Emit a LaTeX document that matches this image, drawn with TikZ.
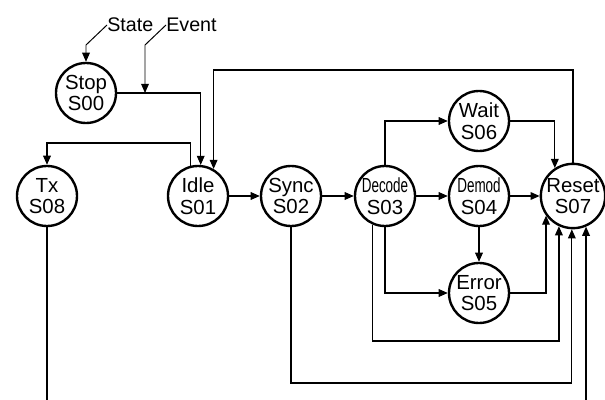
\documentclass[tikz,border=0pt]{standalone}
\usepackage{fontspec}
\setmainfont{Liberation Sans}
\usetikzlibrary{positioning,arrows.meta,calc}

\tikzset{
  state/.style={circle, draw, line width=1.7pt, minimum size=1.5cm, inner sep=0pt,
    align=center, font=\fontsize{14.5}{15.5}\selectfont},
  trans/.style={-{Triangle[length=6.5pt, width=5.5pt]}, line width=0.85pt},
  lbl/.style={font=\fontsize{14}{15.5}\selectfont, inner sep=0pt}
}
\newcommand{\narrowtxt}[1]{\scalebox{0.66}[1]{#1}}

\begin{document}
\begin{tikzpicture}[x=0.025cm, y=-0.025cm]
  \useasboundingbox (0,0) rectangle (605,400);
  \clip (0,0) rectangle (605,400);

  \node[state] (Stop) at (86,93) {Stop\\S00};
  \node[state] (Tx) at (47,196) {Tx\\S08};
  \node[state] (Idle) at (198,196) {Idle\\S01};
  \node[state] (Sync) at (291,196) {Sync\\S02};
  \node[state] (Decode) at (385,196) {\narrowtxt{Decode}\\S03};
  \node[state] (Demod) at (479,196) {\narrowtxt{Demod}\\S04};
  \node[state] (Reset) at (573,196) {Reset\\S07};
  \node[state] (Wait) at (479,121) {Wait\\S06};
  \node[state] (Error) at (479,293) {Error\\S05};

  \node[lbl, anchor=west] (state) at (107,25) {State};
  \node[lbl, anchor=west] (event) at (166,25) {Event};

  \coordinate (bend) at (0,45);
  \coordinate (tap) at (145,93);
  \coordinate (rowtop) at (0,70);
  \coordinate (rowtx) at (0,143);
  \coordinate (rowlow) at (0,341);
  \coordinate (rowbot) at (0,383);
  \coordinate (rowout) at (0,420);

  % legend
  \draw[trans, line width=0.7pt] (state.west) -- (Stop.north |- bend) -- (Stop.north);
  \draw[trans, line width=0.7pt] (event.west) -- (tap |- bend) -- (tap);

  \draw[trans] (Stop.east) -| (Idle.85);
  \draw[trans] (Reset.north) -- (Reset.north |- rowtop) -| (Idle.60);
  \draw[trans] (Idle.104) -- (Idle.104 |- rowtx) -| (Tx.north);
  \draw[trans] (Idle) -- (Sync);
  \draw[trans] (Sync) -- (Decode);
  \draw[trans] (Decode) -- (Demod);
  \draw[trans] (Demod) -- (Reset);
  \draw[trans] (Decode.north) |- (Wait.west);
  \draw[trans] (Wait.east) -| (Reset.123);
  \draw[trans] (Demod) -- (Error);
  \draw[trans] (Decode.south) |- (Error.west);
  \draw[trans] (Error.east) -| (Reset.216);
  \draw[trans] (Decode.247) -- (Decode.247 |- rowlow) -| (Reset.245);
  \draw[trans] (Sync.south) -- (Sync.south |- rowbot) -| (Reset.268);
  \draw[trans] (Tx.south) -- (Tx.south |- rowout) -| (Reset.293);

\end{tikzpicture}
\end{document}
